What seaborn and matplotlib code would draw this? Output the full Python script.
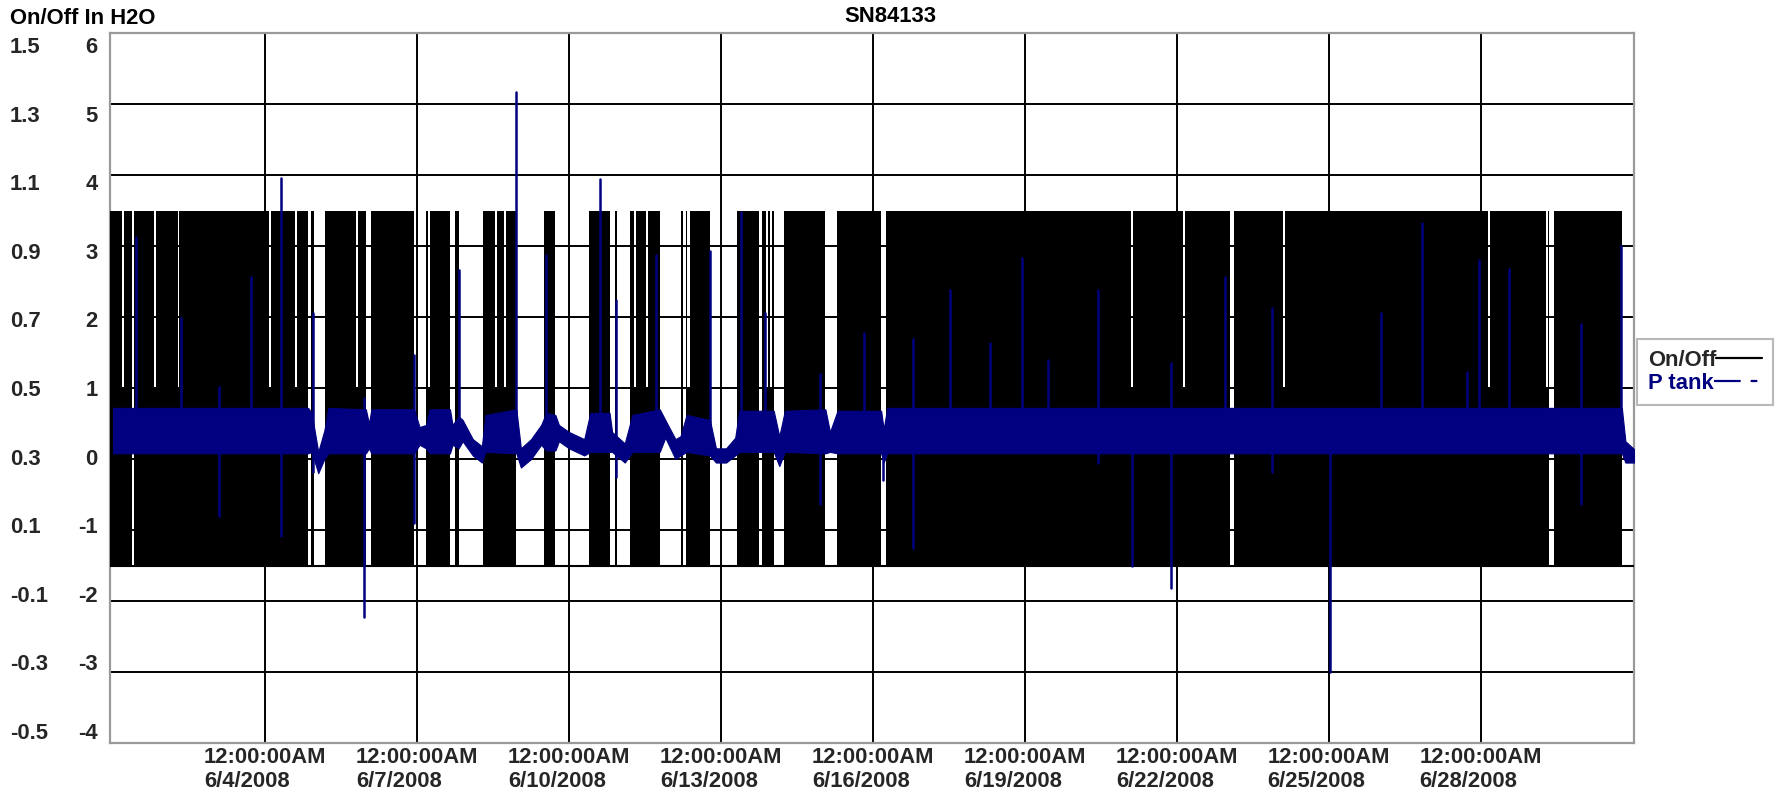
import numpy as np
import pandas as pd
import matplotlib
matplotlib.use("Agg")
import matplotlib.pyplot as plt
import seaborn as sns
from matplotlib.lines import Line2D

sns.set_theme(style="white")
plt.rcParams["font.family"] = ["Liberation Sans", "DejaVu Sans"]
plt.rcParams["font.weight"] = "bold"

# ---------------- data (x in days since 6/1/2008 00:00) ----------------
x_range = [-0.06, 30.02]

# On/Off: periods where the compressor toggles (drawn solid)
on_blocks = [(-0.06, 0.375), (0.415, 3.849), (3.898, 3.967), (4.174, 4.993),
             (5.098, 5.941), (6.183, 6.645), (6.756, 6.823), (7.302, 7.960),
             (8.500, 8.729), (9.388, 9.803), (9.901, 9.953), (10.213, 10.790),
             (11.210, 11.249), (11.309, 11.777), (12.325, 12.743), (12.809, 13.040),
             (13.243, 14.058), (14.299, 15.157), (15.256, 22.045), (22.134, 28.350),
             (28.439, 29.787)]
# short periods where the signal only reaches 0.5
upper_gaps = [(0.18, 0.21), (0.81, 0.84), (1.28, 1.31), (3.08, 3.11), (3.60, 3.63),
              (4.80, 4.83), (6.22, 6.26), (7.54, 7.58), (7.72, 7.76), (10.29, 10.32),
              (10.51, 10.55), (11.33, 11.39), (12.88, 12.93), (12.97, 13.01),
              (20.09, 20.14), (21.12, 21.16), (23.09, 23.14), (27.14, 27.18),
              (28.28, 28.33)]

# P tank (In H2O): envelope of the noisy trace
p_day = [0.00, 3.85, 3.92, 4.05, 4.17, 4.25, 4.99, 5.05, 5.10, 5.94, 6.05, 6.18,
         6.25, 6.65, 6.70, 6.82, 6.90, 7.10, 7.28, 7.35, 7.96, 8.05, 8.25, 8.45,
         8.55, 8.73, 8.80, 9.00, 9.30, 9.42, 9.80, 9.85, 10.10, 10.25, 10.79,
         10.90, 11.10, 11.20, 11.32, 11.78, 11.90, 12.10, 12.28, 12.36, 13.04,
         13.15, 13.26, 14.06, 14.15, 14.30, 15.16, 15.21, 15.28, 29.78, 29.85, 30.02]
p_lo = [0.08, 0.08, 0.10, -0.20, 0.00, 0.08, 0.08, 0.15, 0.08, 0.08, 0.20, 0.15,
        0.08, 0.08, 0.20, 0.15, 0.25, 0.05, -0.05, 0.10, 0.08, -0.12, 0.00, 0.20,
        0.12, 0.12, 0.25, 0.15, 0.05, 0.10, 0.10, 0.10, -0.05, 0.10, 0.10,
        0.30, 0.00, 0.05, 0.10, 0.05, -0.05, -0.05, 0.05, 0.10, 0.10,
        -0.10, 0.10, 0.08, 0.10, 0.08, 0.08, -0.05, 0.08, 0.08, -0.05, -0.05]
p_hi = [0.72, 0.72, 0.65, 0.10, 0.40, 0.72, 0.70, 0.50, 0.70, 0.70, 0.45, 0.48,
        0.70, 0.70, 0.48, 0.60, 0.55, 0.28, 0.18, 0.62, 0.70, 0.15, 0.28, 0.48,
        0.65, 0.62, 0.48, 0.38, 0.28, 0.65, 0.65, 0.38, 0.22, 0.62, 0.70,
        0.55, 0.28, 0.32, 0.62, 0.55, 0.15, 0.15, 0.30, 0.68, 0.68,
        0.32, 0.68, 0.70, 0.38, 0.68, 0.68, 0.42, 0.72, 0.72, 0.25, 0.14]

# P tank spikes
spike_day = [0.46, 1.34, 2.09, 2.73, 3.31, 3.95, 4.95, 5.94, 6.82, 7.95, 8.55, 9.61,
             9.93, 10.71, 11.78, 12.40, 12.86, 13.95, 14.82, 15.20, 15.79, 16.51,
             17.31, 17.95, 18.46, 19.45, 20.11, 20.89, 21.95, 22.87, 24.02, 25.02,
             25.84, 26.73, 26.97, 27.56, 28.97, 29.77]
spike_top = [3.12, 1.98, 1.02, 2.57, 3.96, 2.05, 0.86, 1.46, 2.66, 5.17, 2.87, 3.95,
             2.24, 2.87, 2.93, 3.48, 2.05, 1.20, 1.78, 0.40, 1.69, 2.38,
             1.64, 2.83, 1.40, 2.38, 0.40, 1.35, 2.57, 2.12, 0.60, 2.06,
             3.33, 1.23, 2.80, 2.67, 1.90, 3.00]
spike_bot = [0.30, 0.30, -0.80, 0.30, -1.09, -0.19, -2.22, -0.90, 0.30, 0.30, 0.30, 0.30,
             -0.25, 0.30, 0.10, 0.30, 0.30, -0.63, 0.30, -0.30, -1.26, 0.30,
             0.30, 0.30, 0.30, -0.05, -1.50, -1.81, 0.30, -0.19, -3.00, 0.30,
             0.30, 0.30, 0.30, 0.30, -0.64, 0.30]

tick_days = [3, 6, 9, 12, 15, 18, 21, 24, 27]
tick_dates = ["6/4/2008", "6/7/2008", "6/10/2008", "6/13/2008", "6/16/2008",
              "6/19/2008", "6/22/2008", "6/25/2008", "6/28/2008"]
h2o_ticks = [-4, -3, -2, -1, 0, 1, 2, 3, 4, 5, 6]
onoff_ticks = [-0.5, -0.3, -0.1, 0.1, 0.3, 0.5, 0.7, 0.9, 1.1, 1.3, 1.5]

NAVY = "#000080"
FS = 15.8

# ---------------- figure ----------------
fig = plt.figure(figsize=(17.75, 8.01), dpi=100)
W, H = 1775, 801
L, R, T, B = 110, 1634, 33, 743
ax = fig.add_axes([L / W, 1 - B / H, (R - L) / W, (B - T) / H])
ax.set_facecolor("white")
ax.set_xlim(*x_range)
ax.set_ylim(-4, 6)
ax.set_yticks(h2o_ticks)
ax.set_yticklabels([])
ax.set_xticks(tick_days)
ax.set_xticklabels([f"12:00:00AM\n{d}" for d in tick_dates], fontsize=FS,
                   fontweight="bold", ha="center", multialignment="left",
                   linespacing=1.15)
ax.tick_params(axis="both", length=0)
ax.tick_params(axis="x", pad=3)
ax.grid(True, color="black", linewidth=1.4)
for s in ax.spines.values():
    s.set_color("#9a9a9a")
    s.set_linewidth(1.6)

# On/Off axis
ax_on = ax.twinx()
ax_on.set_ylim(-0.5, 1.5)
ax_on.set_yticks([])
for s in ax_on.spines.values():
    s.set_visible(False)
edges = sorted(set([v for blk in on_blocks for v in blk] +
                   [v for g in upper_gaps for v in g] + list(x_range)))
t = np.array(edges)
mids = (t[:-1] + t[1:]) / 2


def state(m):
    if not any(a <= m < b for a, b in on_blocks):
        return 0.0
    if any(a <= m < b for a, b in upper_gaps):
        return 0.5
    return 1.0


u = np.array([state(m) for m in mids] + [0.0])
ax_on.fill_between(t, 0, u, step="post", color="black", linewidth=0)
ax_on.axhline(0, color="black", linewidth=1.5)

# P tank axis
ax_p = ax.twinx()
ax_p.set_ylim(-4, 6)
ax_p.set_yticks([])
for s in ax_p.spines.values():
    s.set_visible(False)
ax_p.fill_between(p_day, p_lo, p_hi, color=NAVY, linewidth=0.8, edgecolor=NAVY)
spk = pd.DataFrame({
    "day": np.repeat(spike_day, 2),
    "val": np.ravel(np.column_stack([spike_bot, spike_top])),
    "id": np.repeat(np.arange(len(spike_day)), 2),
})
sns.lineplot(data=spk, x="day", y="val", units="id", estimator=None, sort=False,
             color=NAVY, linewidth=1.8, ax=ax_p, legend=False)
ax_p.set_xlim(*x_range)
ax_p.set_xlabel("")
ax_p.set_ylabel("")

# tick label axes (labels spread slightly inside gridlines)
lab_h = ax.twinx()
lab_h.set_ylim(-4.175, 6.175)
lab_h.yaxis.tick_left()
lab_h.set_yticks(h2o_ticks)
lab_h.set_yticklabels([str(v) for v in h2o_ticks], fontsize=FS, fontweight="bold")
lab_h.tick_params(axis="y", length=0, pad=9)
for s in lab_h.spines.values():
    s.set_visible(False)

lab_o = ax.twinx()
lab_o.set_ylim(-0.535, 1.535)
lab_o.yaxis.tick_left()
lab_o.set_yticks(onoff_ticks)
lab_o.set_yticklabels([f"{v:.1f}" for v in onoff_ticks], fontsize=FS, fontweight="bold")
lab_o.tick_params(axis="y", length=0, pad=72)
for lbl in lab_o.get_yticklabels():
    lbl.set_horizontalalignment("left")
for s in lab_o.spines.values():
    s.set_visible(False)

# texts
fig.text(10 / W, 1 - 18 / H, "On/Off In H2O", fontsize=FS, fontweight="bold",
         ha="left", va="center", color="black")
fig.text(890 / W, 1 - 17 / H, "SN84133", fontsize=FS, fontweight="bold",
         ha="center", va="center", color="black")

# legend
handles = [Line2D([], [], color="black", linewidth=1.6),
           Line2D([], [], color=NAVY, linewidth=1.6, linestyle=(0, (12, 4.5, 3, 4.5)))]
leg = fig.legend(handles, ["On/Off", "P tank"], loc="upper left",
                 bbox_to_anchor=(1637 / W, 1 - 339 / H), markerfirst=False,
                 prop={"weight": "bold", "size": FS},
                 frameon=True, fancybox=False, handlelength=2.1, handletextpad=0.0,
                 labelspacing=0.1, borderpad=0.5, borderaxespad=0)
try:
    for col in leg._legend_handle_box.get_children():
        col.align = "left"
except Exception:
    pass
leg.get_frame().set_edgecolor("#a8a8a8")
leg.get_frame().set_linewidth(1.5)
leg.get_texts()[1].set_color(NAVY)

fig.savefig("out.png", dpi=100)
